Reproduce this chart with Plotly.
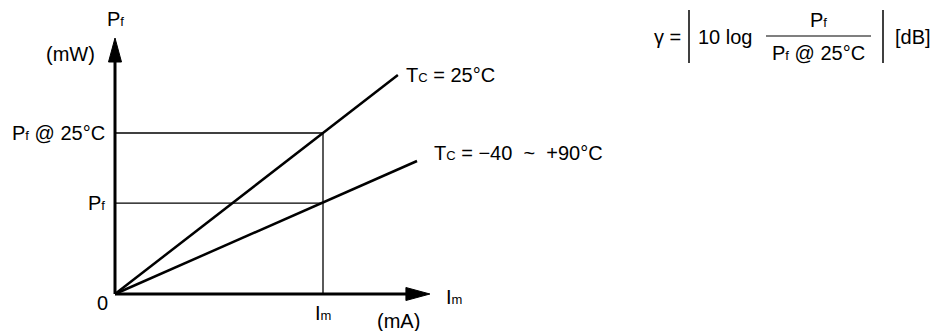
import plotly.graph_objects as go

# values of the sketch, in relative units (Im = 1, Pf @ 25C = 1)
x_axis_end = 1.514
y_axis_end = 1.59
im_mark = 1.0
pf_25 = 1.0
pf_low = 0.565
line_25_x = [0, 1.36]
line_25_y = [0, 1.36]
line_wide_x = [0, 1.452]
line_wide_y = [0, 0.826]

W, H = 934, 331
X0, Y0 = 115, 294        # pixel of the origin
SX, SY = 208, 161        # pixels per unit
FONT = "Liberation Sans, Arial, Helvetica, sans-serif"
FS = 20

# small index letter that sits on the baseline, as in the datasheet
def small(s):
    return '<span style="font-size:13px">' + s + '</span>'

PF = "P" + small("f")
IM = "I" + small("m")
TC = "T" + small("C")

fig = go.Figure()

def line(x, y, w):
    fig.add_trace(go.Scatter(x=x, y=y, mode="lines", line=dict(color="black", width=w),
                             hoverinfo="skip", showlegend=False))

# guide lines
line([0, im_mark], [pf_25, pf_25], 1.3)
line([0, im_mark], [pf_low, pf_low], 1.3)
line([im_mark, im_mark], [0, pf_25], 1.3)

# characteristic lines
line(line_25_x, line_25_y, 2.5)
line(line_wide_x, line_wide_y, 2.5)

# axes with arrow heads
head_len, head_half = 24, 6.5
line([0, x_axis_end - head_len / SX / 2], [0, 0], 3)
line([0, 0], [0, y_axis_end - head_len / SY / 2], 3)
for xs, ys in [
    ([x_axis_end, x_axis_end - head_len / SX, x_axis_end - head_len / SX, x_axis_end],
     [0, head_half / SY, -head_half / SY, 0]),
    ([0, head_half / SX, -head_half / SX, 0],
     [y_axis_end, y_axis_end - head_len / SY, y_axis_end - head_len / SY, y_axis_end]),
]:
    fig.add_trace(go.Scatter(x=xs, y=ys, mode="lines", fill="toself", fillcolor="black",
                             line=dict(color="black", width=1), hoverinfo="skip", showlegend=False))

def note(text, x, y, xanchor="center", xshift=0, yshift=0, ref="data"):
    d = dict(text=text, x=x, y=y, showarrow=False, xanchor=xanchor, yanchor="middle",
             xshift=xshift, yshift=yshift, font=dict(family=FONT, size=FS, color="black"))
    if ref == "paper":
        d.update(xref="paper", yref="paper", x=x / W, y=1 - y / H)
    fig.add_annotation(**d)

note(PF, 0, y_axis_end, yshift=19)
note("(mW)", 0, y_axis_end, xshift=-45, yshift=-16)
note(PF + " @ 25°C", 0, pf_25, xanchor="right", xshift=-8)
note(PF, 0, pf_low, xanchor="right", xshift=-8)
note("0", 0, 0, xshift=-13, yshift=-9)
note(IM, im_mark, 0, yshift=-19)
note("(mA)", x_axis_end, 0, xshift=-31, yshift=-27)
note(IM, x_axis_end, 0, xanchor="left", xshift=14, yshift=-3)
note(TC + " = 25°C", line_25_x[1], line_25_y[1], xanchor="left", xshift=6)
note(TC + " = \u221240  ~  +90°C", line_wide_x[1], line_wide_y[1], xanchor="left",
     xshift=15, yshift=8)

# formula at top right
note("\u03b3 =", 652, 37, xanchor="left", ref="paper")
note("10 log", 696, 37, xanchor="left", ref="paper")
note(PF, 818, 20, ref="paper")
note(PF + " @ 25°C", 818, 53, ref="paper")
note("[dB]", 893, 37, xanchor="left", ref="paper")
for x0, y0, x1, y1, w in [(689, 10, 689, 63, 1.5), (883, 10, 883, 63, 1.5), (766, 36, 871, 36, 1.2)]:
    fig.add_shape(type="line", xref="paper", yref="paper", x0=x0 / W, x1=x1 / W,
                  y0=1 - y0 / H, y1=1 - y1 / H, line=dict(color="black", width=w))

fig.update_layout(
    width=W, height=H, margin=dict(l=0, r=0, t=0, b=0),
    plot_bgcolor="white", paper_bgcolor="white",
    xaxis=dict(range=[-X0 / SX, (W - X0) / SX], visible=False, fixedrange=True),
    yaxis=dict(range=[-(H - Y0) / SY, Y0 / SY], visible=False, fixedrange=True),
)

fig.write_html("out.html", config={"displayModeBar": False},
               post_script="document.body.style.margin = '0';")
